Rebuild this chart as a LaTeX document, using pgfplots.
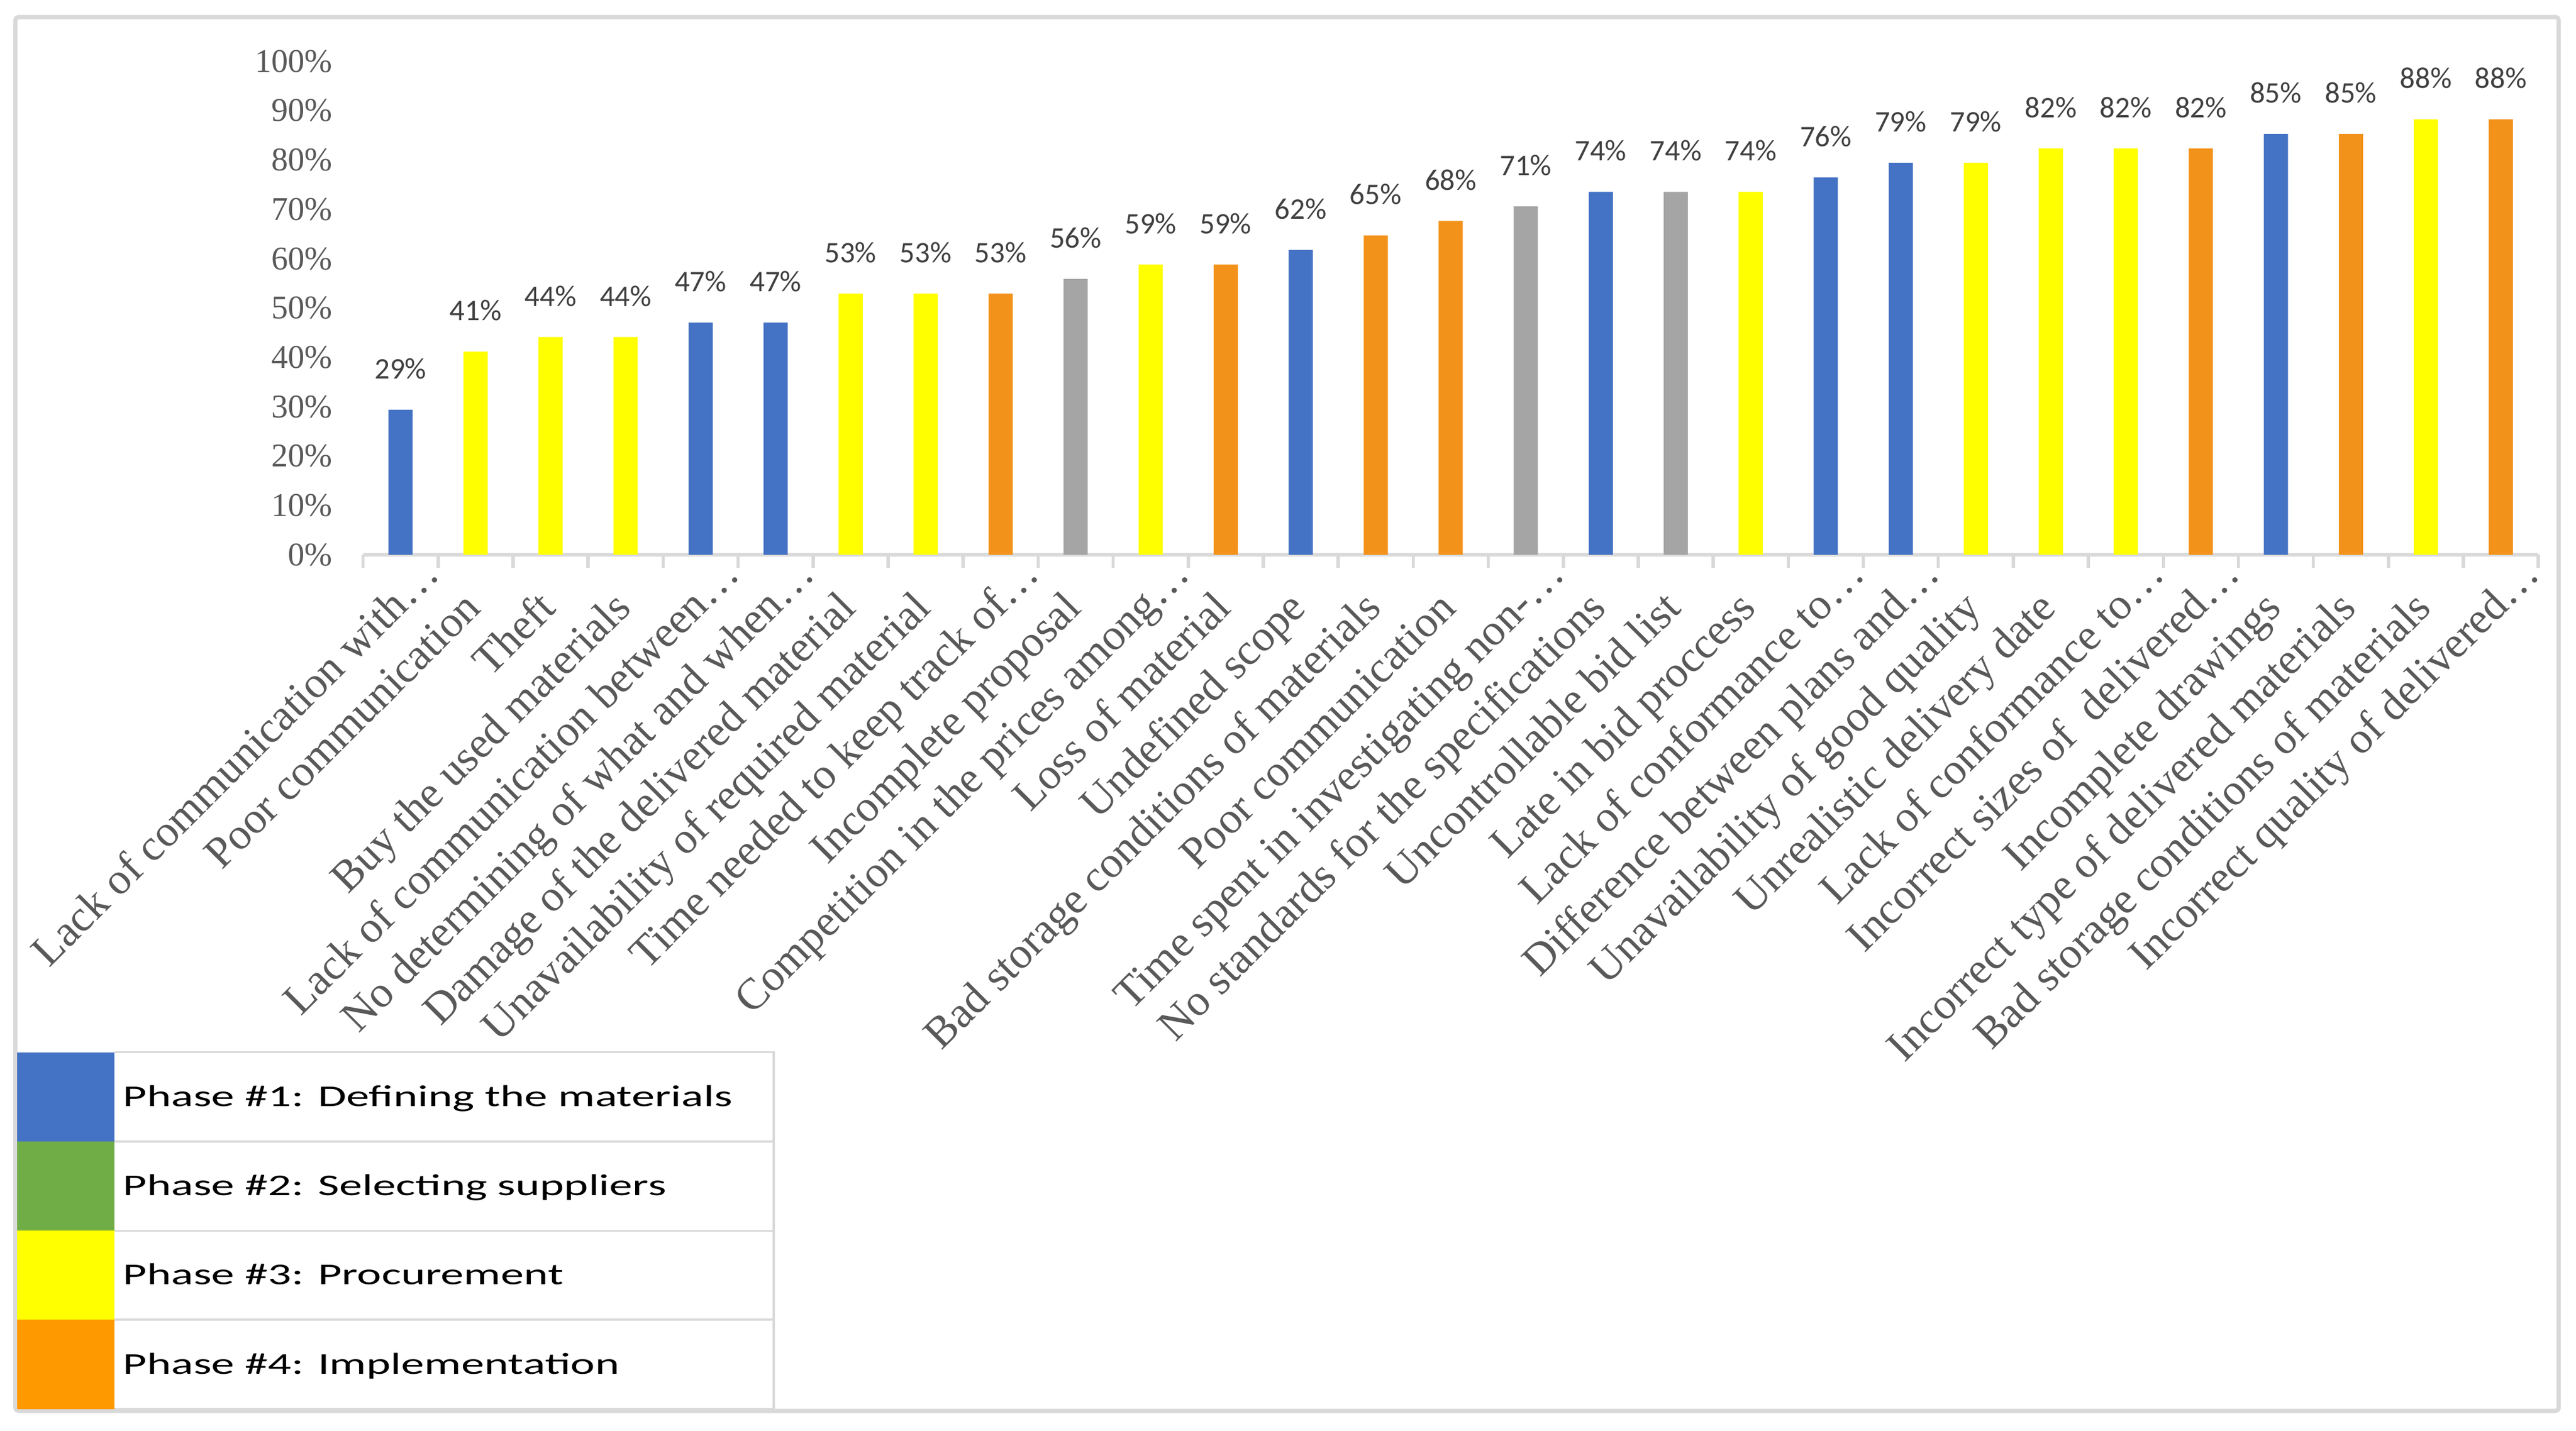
\documentclass[border=0pt]{standalone}
\usepackage{fontspec}
\setmainfont{Liberation Serif}
\newfontfamily\carlito{Carlito}
\newfontfamily\legfont[FakeStretch=1.53]{Carlito}
\usepackage{pgfplots}
\pgfplotsset{compat=1.18}
\definecolor{cblue}{HTML}{4472C4}
\definecolor{cyellow}{HTML}{FFFF00}
\definecolor{corange}{HTML}{F3921A}
\definecolor{cgray}{HTML}{A5A5A5}
\definecolor{lgreen}{HTML}{70AD47}
\definecolor{lorange}{HTML}{FF9900}
\definecolor{axgray}{HTML}{D9D9D9}
\definecolor{tickgray}{HTML}{595959}
\definecolor{labgray}{HTML}{404040}
\newcommand\K{\kern14.5pt}
\begin{document}
\begin{tikzpicture}
\useasboundingbox (0,0) rectangle (784pt,435.5pt);
\draw[draw=axgray, line width=1.3pt, rounded corners=1pt] (4.65pt,6pt) rectangle (778.75pt,430.3pt);
\begin{axis}[
  scale only axis, width=662.05pt, height=150.25pt,
  at={(110.5pt,266.6pt)}, anchor=south west,
  clip=false,
  /pgf/number format/assume math mode=true,
  xmin=-0.5, xmax=28.5, ymin=0, ymax=100,
  axis x line*=bottom, axis y line*=left,
  y axis line style={draw=none},
  x axis line style={draw=axgray, line width=1pt},
  major tick length=0pt, minor tick length=4pt, tick align=outside,
  ytick={0,10,...,100},
  yticklabels={0\%,10\%,20\%,30\%,40\%,50\%,60\%,70\%,80\%,90\%,100\%},
  ytick style={draw=none},
  yticklabel style={font=\fontsize{10.1}{12}\selectfont, text=tickgray, inner sep=0pt, anchor=east, xshift=-9.1pt},
  xtick={0,...,28},
  minor xtick={-0.5,0.5,...,28.5},
  major x tick style={draw=none},
  minor x tick style={draw=axgray, line width=1pt},
  xticklabels={
    {Lack of communication with…},
    {Poor communication\K},
    {Theft\K},
    {Buy the used materials\K},
    {Lack of communication between…},
    {No determining of what and when…},
    {Damage of the delivered material\K},
    {Unavailability of required material\K},
    {Time needed to keep track of…},
    {Incomplete proposal\K},
    {Competition in the prices among…},
    {Loss of material\K},
    {Undefined scope\K},
    {Bad storage conditions of materials\K},
    {Poor communication\K},
    {Time spent in investigating non-…},
    {No standards for the specifications\K},
    {Uncontrollable bid list\K},
    {Late in bid proccess\K},
    {Lack of conformance to…},
    {Difference between plans and…},
    {Unavailability of good quality\K},
    {Unrealistic delivery date\K},
    {Lack of conformance to…},
    {Incorrect sizes of~~delivered…},
    {Incomplete drawings\K},
    {Incorrect type of delivered materials\K},
    {Bad storage conditions of materials\K},
    {Incorrect quality of delivered…}},
  xticklabel style={font=\fontsize{13.4}{15}\selectfont, text=tickgray, inner sep=0pt, anchor=base east, xshift=12.5pt, yshift=-6.5pt, rotate=45},
  nodes near coords={\pgfmathprintnumber[fixed,precision=0,assume math mode=true]{\pgfplotspointmeta}\%},
  nodes near coords style={font=\carlito\fontsize{9.1}{11}\selectfont, text=labgray, anchor=south, inner sep=0pt, yshift=9.15pt},
]
\addplot[ybar, bar width=7.36pt, bar shift=0pt, fill=cblue, draw=none] coordinates {
  (0,29.41) (4,47.06) (5,47.06) (12,61.76) (16,73.53) (19,76.47) (20,79.41) (25,85.29)};
\addplot[ybar, bar width=7.36pt, bar shift=0pt, fill=cyellow, draw=none] coordinates {
  (1,41.18) (2,44.12) (3,44.12) (6,52.94) (7,52.94) (10,58.82) (18,73.53) (21,79.41) (22,82.35) (23,82.35) (27,88.24)};
\addplot[ybar, bar width=7.36pt, bar shift=0pt, fill=corange, draw=none] coordinates {
  (8,52.94) (11,58.82) (13,64.71) (14,67.65) (24,82.35) (26,85.29) (28,88.24)};
\addplot[ybar, bar width=7.36pt, bar shift=0pt, fill=cgray, draw=none] coordinates {
  (9,55.88) (15,70.59) (17,73.53)};
\end{axis}
% legend table
\fill[cblue]   (5.15pt,88pt)    rectangle (34.75pt,115.15pt);
\fill[lgreen]  (5.15pt,60.85pt) rectangle (34.75pt,88pt);
\fill[cyellow] (5.15pt,33.8pt)  rectangle (34.75pt,60.85pt);
\fill[lorange] (5.15pt,6.55pt)  rectangle (34.75pt,33.8pt);
\draw[axgray, line width=0.6pt] (34.75pt,115.15pt) -- (235.5pt,115.15pt) -- (235.5pt,6.55pt) -- (34.75pt,6.55pt);
\draw[axgray, line width=0.6pt] (34.75pt,88pt) -- (235.5pt,88pt);
\draw[axgray, line width=0.6pt] (34.75pt,60.85pt) -- (235.5pt,60.85pt);
\draw[axgray, line width=0.6pt] (34.75pt,33.8pt) -- (235.5pt,33.8pt);
\begin{scope}[every node/.style={anchor=base west, inner sep=0pt, font=\legfont\fontsize{9.2}{11}\selectfont}]
\node at (37.3pt,98.6pt) {Phase \#1: Defining the materials};
\node at (37.3pt,71.5pt) {Phase \#2: Selecting suppliers};
\node at (37.3pt,44.4pt) {Phase \#3: Procurement};
\node at (37.3pt,17.2pt) {Phase \#4: Implementation};
\end{scope}
\end{tikzpicture}
\end{document}
